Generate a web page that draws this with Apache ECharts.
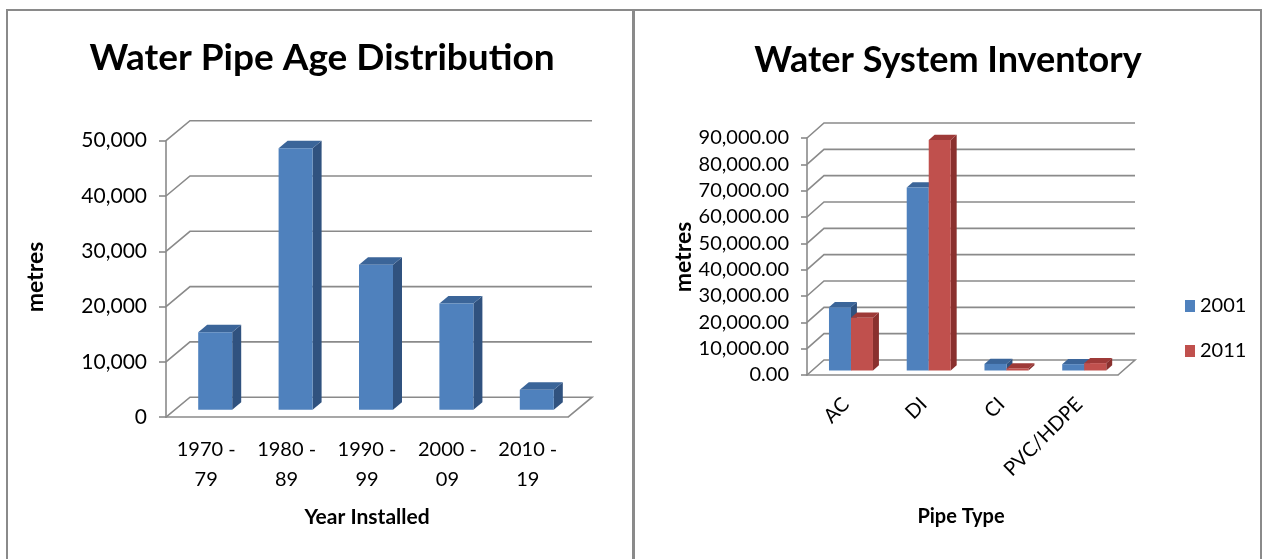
<!DOCTYPE html>
<html><head><meta charset="utf-8">
<script src="https://cdn.jsdelivr.net/npm/echarts@6/dist/echarts.min.js"></script>
<style>html,body{margin:0;padding:0;background:#fff}#c{width:1262px;height:559px}</style>
</head><body><div id="c"></div>
<script>
// ---- data ----
const ageCategories = ['1970 -\n79', '1980 -\n89', '1990 -\n99', '2000 -\n09', '2010 -\n19'];
const ageValues = [14000, 47300, 26200, 19200, 3600];
const ageTicks = [0, 10000, 20000, 30000, 40000, 50000];

const pipeTypes = ['AC', 'DI', 'CI', 'PVC/HDPE'];
const inv2001 = [24000, 69500, 2500, 2400];
const inv2011 = [20000, 87500, 800, 2800];
const invTicks = [0, 10000, 20000, 30000, 40000, 50000, 60000, 70000, 80000, 90000];

// ---- style ----
const FONT = 'Lato';
const GRID_COLOR = '#8a8a8a';
const blue = { front: '#4F81BD', side: '#30527F', top: '#3B6599' };
const red = { front: '#C0504D', side: '#8A302E', top: '#9E3A38' };
const cfgL = { dx: 24, dy: 20, f: 0.375, b: 0.375, bw: 34 };
const cfgR = { dx: 17, dy: 15, f: 0.3, b: 0.35, bw: 22 };

function gridRender(cfg) {
  return function (params, api) {
    const cs = params.coordSys;
    const t = api.value(1);
    const y = api.coord([0, t])[1];
    const x0 = cs.x, x1 = cs.x + cs.width;
    const pts = [[x0, y], [x0 + cfg.dx, y - cfg.dy], [x1 + cfg.dx, y - cfg.dy]];
    if (t === 0) pts.push([x1, y]);
    return { type: 'polyline', shape: { points: pts }, style: { stroke: GRID_COLOR, lineWidth: 1.6, fill: null } };
  };
}
function barRender(cfg, sIdx, nS, col) {
  return function (params, api) {
    const i = api.value(0), v = api.value(1);
    const base = api.coord([i, 0]);
    const top = api.coord([i, v]);
    const fx = cfg.f * cfg.dx, fy = cfg.f * cfg.dy;
    const xl = base[0] - nS * cfg.bw / 2 + sIdx * cfg.bw + fx;
    const xr = xl + cfg.bw;
    const yb = base[1] - fy, yt = top[1] - fy;
    const bx = cfg.b * cfg.dx, by = cfg.b * cfg.dy;
    return {
      type: 'group', children: [
        { type: 'polygon', shape: { points: [[xr, yt], [xr + bx, yt - by], [xr + bx, yb - by], [xr, yb]] }, style: { fill: col.side } },
        { type: 'polygon', shape: { points: [[xl, yt], [xl + bx, yt - by], [xr + bx, yt - by], [xr, yt]] }, style: { fill: col.top } },
        { type: 'rect', shape: { x: xl, y: yt, width: cfg.bw, height: yb - yt }, style: { fill: col.front } }
      ]
    };
  };
}

const chart = echarts.init(document.getElementById('c'), null, { renderer: 'canvas' });
const txt = (text, x, y, size, bold, rot) => ({
  type: 'text', x: x, y: y, rotation: rot || 0,
  style: { text: text, textAlign: 'center', textVerticalAlign: 'middle', fill: '#000',
    font: (bold ? 'bold ' : '') + size + 'px ' + FONT }
});
chart.setOption({
  animation: false,
  textStyle: { fontFamily: FONT },
  grid: [
    { left: 166, top: 140.7, width: 402, height: 276.5 },
    { left: 807, top: 138, width: 311, height: 237 }
  ],
  xAxis: [
    { type: 'category', gridIndex: 0, data: ageCategories,
      axisLine: { lineStyle: { color: GRID_COLOR, width: 1.6 } }, axisTick: { show: false },
      axisLabel: { interval: 0, color: '#000', fontSize: 20, lineHeight: 30, margin: 17, fontFamily: FONT } },
    { type: 'category', gridIndex: 1, data: pipeTypes,
      axisLine: { lineStyle: { color: GRID_COLOR, width: 1.6 } }, axisTick: { show: false },
      axisLabel: { interval: 0, rotate: 45, color: '#000', fontSize: 20, margin: 26, fontFamily: FONT } }
  ],
  yAxis: [
    { type: 'value', gridIndex: 0, min: 0, max: 50000, interval: 10000,
      axisLine: { show: true, lineStyle: { color: GRID_COLOR, width: 1.6 } },
      axisTick: { show: true, length: 7, lineStyle: { color: GRID_COLOR, width: 1.6 } },
      splitLine: { show: false },
      axisLabel: { color: '#000', fontSize: 21, margin: 19, fontFamily: FONT,
        formatter: v => v.toLocaleString('en-US') } },
    { type: 'value', gridIndex: 1, min: 0, max: 90000, interval: 10000,
      axisLine: { show: true, lineStyle: { color: GRID_COLOR, width: 1.6 } },
      axisTick: { show: true, length: 6, lineStyle: { color: GRID_COLOR, width: 1.6 } },
      splitLine: { show: false },
      axisLabel: { color: '#000', fontSize: 20, margin: 18, fontFamily: FONT,
        formatter: v => v.toLocaleString('en-US', { minimumFractionDigits: 2, maximumFractionDigits: 2 }) } }
  ],
  legend: {
    data: ['2001', '2011'], orient: 'vertical', left: 1180, top: 291, itemGap: 25,
    icon: 'rect', itemWidth: 10, itemHeight: 12,
    textStyle: { fontSize: 20, color: '#000', fontFamily: FONT }
  },
  series: [
    { type: 'custom', name: 'grid-left', xAxisIndex: 0, yAxisIndex: 0, clip: false, silent: true,
      renderItem: gridRender(cfgL), data: ageTicks.map(t => [0, t]) },
    { type: 'custom', name: 'Year Installed', xAxisIndex: 0, yAxisIndex: 0, clip: false,
      itemStyle: { color: blue.front },
      renderItem: barRender(cfgL, 0, 1, blue), data: ageValues.map((v, i) => [i, v]) },
    { type: 'custom', name: 'grid-right', xAxisIndex: 1, yAxisIndex: 1, clip: false, silent: true,
      renderItem: gridRender(cfgR), data: invTicks.map(t => [0, t]) },
    { type: 'custom', name: '2001', xAxisIndex: 1, yAxisIndex: 1, clip: false,
      itemStyle: { color: blue.front },
      renderItem: barRender(cfgR, 0, 2, blue), data: inv2001.map((v, i) => [i, v]) },
    { type: 'custom', name: '2011', xAxisIndex: 1, yAxisIndex: 1, clip: false,
      itemStyle: { color: red.front },
      renderItem: barRender(cfgR, 1, 2, red), data: inv2011.map((v, i) => [i, v]) }
  ],
  graphic: [
    { type: 'line', shape: { x1: 6, y1: 10, x2: 1262, y2: 10 }, style: { stroke: '#8a8a8a', lineWidth: 2 } },
    { type: 'line', shape: { x1: 7, y1: 10, x2: 7, y2: 559 }, style: { stroke: '#8a8a8a', lineWidth: 2 } },
    { type: 'line', shape: { x1: 633.5, y1: 10, x2: 633.5, y2: 559 }, style: { stroke: '#8a8a8a', lineWidth: 3 } },
    { type: 'line', shape: { x1: 1261, y1: 10, x2: 1261, y2: 559 }, style: { stroke: '#8a8a8a', lineWidth: 2 } },
    txt('Water Pipe Age Distribution', 322, 58, 37, true),
    txt('Water System Inventory', 948, 60, 36, true),
    txt('metres', 36, 277, 23, true, Math.PI / 2),
    txt('metres', 684, 257, 23, true, Math.PI / 2),
    txt('Year Installed', 367, 517, 21, true),
    txt('Pipe Type', 961, 517, 20, true)
  ]
});
</script></body></html>
